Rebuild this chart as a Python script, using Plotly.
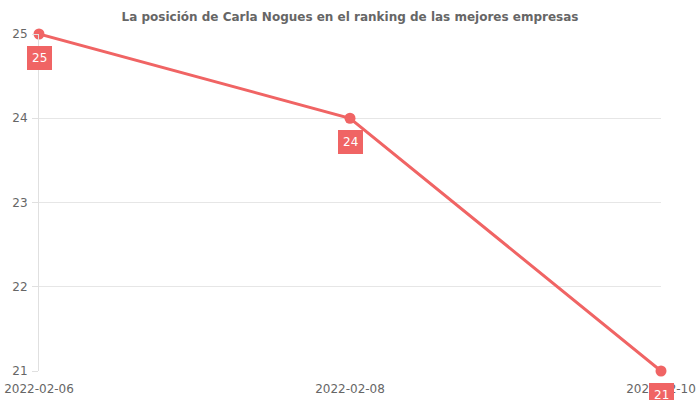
import plotly.graph_objects as go

dates = ["2022-02-06", "2022-02-08", "2022-02-10"]
positions = [25, 24, 21]
title_text = "La posición de Carla Nogues en el ranking de las mejores empresas"
y_ticks = [21, 22, 23, 24, 25]

RED = "#f06464"
FONT = "DejaVu Sans"

fig = go.Figure()
fig.add_trace(go.Scatter(
    x=dates, y=positions, mode="lines+markers",
    line=dict(color=RED, width=3),
    marker=dict(color=RED, size=11),
    cliponaxis=False, hoverinfo="skip",
))

for d, p in zip(dates, positions):
    fig.add_annotation(
        x=d, y=p, text=str(p), showarrow=False, yshift=-24,
        font=dict(family=FONT, size=12, color="white"),
        bgcolor=RED, bordercolor=RED, borderpad=4, borderwidth=1,
    )

fig.update_layout(
    width=700, height=400,
    margin=dict(l=39, r=39, t=34, b=29, autoexpand=False),
    paper_bgcolor="white", plot_bgcolor="white",
    showlegend=False,
    font=dict(family=FONT, size=12, color="#666666"),
    title=dict(text="<b>" + title_text + "</b>", x=0.5, xanchor="center",
               y=1 - 17 / 400, yanchor="middle",
               font=dict(family=FONT, size=12, color="#666666")),
    xaxis=dict(
        type="date", range=[dates[0], dates[-1]],
        tickvals=dates, ticktext=dates, automargin=False,
        showgrid=False, showline=False, zeroline=False,
        ticks="", ticklabelstandoff=9, tickfont=dict(size=12, color="#666666"),
    ),
    yaxis=dict(
        range=[21, 25], tickvals=y_ticks, automargin=False,
        showgrid=True, gridcolor="#e6e6e6", gridwidth=1,
        showline=True, linecolor="#e0e0e0", linewidth=1,
        zeroline=False, ticks="outside", ticklen=6, tickcolor="#e0e0e0",
        ticklabelstandoff=2,
        tickfont=dict(size=12, color="#666666"),
    ),
)

fig.write_html("out.html")
